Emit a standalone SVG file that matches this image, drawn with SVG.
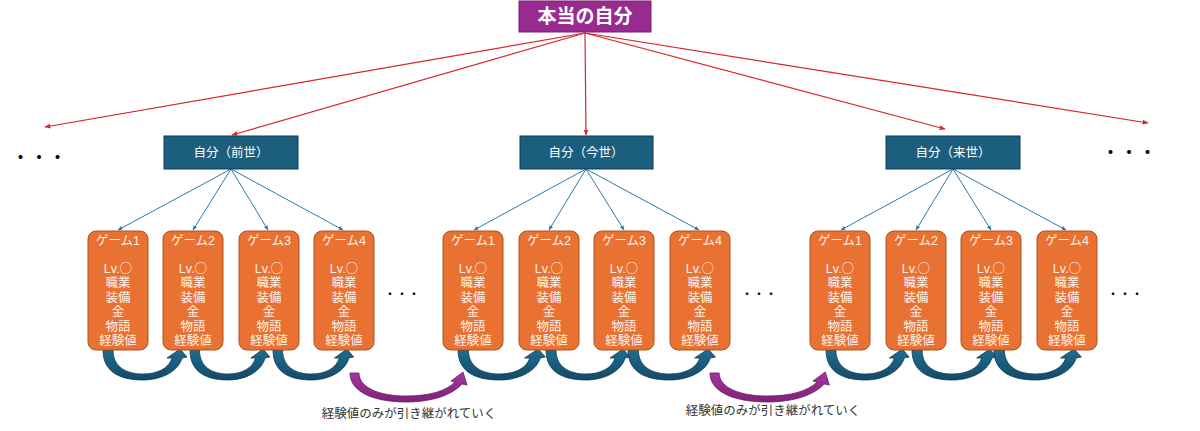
<svg xmlns="http://www.w3.org/2000/svg" xmlns:xlink="http://www.w3.org/1999/xlink" width="1200" height="431" viewBox="0 0 1200 431">
<style>
text{font-family:"Noto Sans CJK JP","Noto Sans",sans-serif;}
.game{fill:#E97132;stroke:#A9521F;stroke-width:1;}
.gt{fill:#FFF3EA;font-size:12.5px;text-anchor:middle;font-family:"Liberation Sans","Noto Sans CJK JP",sans-serif;}
.c{font-family:"Noto Sans CJK JP",sans-serif;}
.life{fill:#1B5E7E;stroke:#0F3D55;stroke-width:1;}
.lt{fill:#FFFFFF;font-size:12.5px;text-anchor:middle;}
.red{stroke:#D6262B;stroke-width:1.2;fill:none;marker-end:url(#ra);}
.blue{stroke:#2A7AA6;stroke-width:1;fill:none;marker-end:url(#ba);}
.dots{fill:#000;text-anchor:middle;}
.lbl{fill:#333;font-size:12.5px;text-anchor:middle;}
</style>
<defs>
<marker id="ra" viewBox="0 0 10 10" refX="9" refY="5" markerWidth="5" markerHeight="5" orient="auto"><path d="M0,1 L10,5 L0,9 Z" fill="#D6262B"/></marker>
<marker id="ba" viewBox="0 0 10 10" refX="9" refY="5" markerWidth="5" markerHeight="5" orient="auto"><path d="M0,1 L10,5 L0,9 Z" fill="#2A7AA6"/></marker>
<linearGradient id="bg" x1="0" y1="0" x2="0" y2="1"><stop offset="0" stop-color="#1F6E92"/><stop offset="1" stop-color="#134A66"/></linearGradient>
<linearGradient id="pg" x1="0" y1="0" x2="0" y2="1"><stop offset="0" stop-color="#A6359F"/><stop offset="1" stop-color="#7E2279"/></linearGradient>
<path id="barrow" d="M0,0 C0,24 20,30 40,30 C60,30 76,20 79,8 L84,7 L77,-1 L64,8 L69,8 C66,18 55,24 40,24 C22,24 10,16 10,0 Z" fill="url(#bg)" stroke="#0E3A50" stroke-width="0.8"/>
<path id="parrow" d="M0,0 C0,20 26,29 56,29 C82,29 102,22 112,11 L117,12 L113,-1 L101,8 L105,9 C96,18 80,23 56,23 C30,23 9,15 9,0 Z" fill="url(#pg)" stroke="#6A1A66" stroke-width="0.8"/>
</defs>
<rect width="1200" height="431" fill="#FFFFFF"/>

<g id="connectors">
  <line class="red" x1="585" y1="33" x2="45" y2="127"/>
  <line class="red" x1="585" y1="33" x2="232" y2="135"/>
  <line class="red" x1="585" y1="33" x2="586" y2="135"/>
  <line class="red" x1="585" y1="33" x2="945" y2="129"/>
  <line class="red" x1="585" y1="33" x2="1148" y2="123"/>

  <line class="blue" x1="231" y1="169" x2="118" y2="230"/>
  <line class="blue" x1="231" y1="169" x2="193" y2="230"/>
  <line class="blue" x1="231" y1="169" x2="268" y2="230"/>
  <line class="blue" x1="231" y1="169" x2="343" y2="230"/>

  <line class="blue" x1="586" y1="169" x2="474" y2="230"/>
  <line class="blue" x1="586" y1="169" x2="549" y2="230"/>
  <line class="blue" x1="586" y1="169" x2="624" y2="230"/>
  <line class="blue" x1="586" y1="169" x2="699" y2="230"/>

  <line class="blue" x1="953" y1="169" x2="841" y2="230"/>
  <line class="blue" x1="953" y1="169" x2="916" y2="230"/>
  <line class="blue" x1="953" y1="169" x2="991" y2="230"/>
  <line class="blue" x1="953" y1="169" x2="1066" y2="230"/>

  <use xlink:href="#barrow" transform="translate(103,350) scale(1,1)"/>
  <use xlink:href="#barrow" transform="translate(190,350) scale(0.95,1)"/>
  <use xlink:href="#barrow" transform="translate(273,350) scale(0.96,1)"/>
  <use xlink:href="#barrow" transform="translate(458,350) scale(1.04,1)"/>
  <use xlink:href="#barrow" transform="translate(546,350) scale(1,1)"/>
  <use xlink:href="#barrow" transform="translate(628,350) scale(1.04,1)"/>
  <use xlink:href="#barrow" transform="translate(826,350) scale(0.99,1)"/>
  <use xlink:href="#barrow" transform="translate(912,350) scale(1.01,1)"/>
  <use xlink:href="#barrow" transform="translate(994,350) scale(1.04,1)"/>

  <use xlink:href="#parrow" transform="translate(350,373)"/>
  <use xlink:href="#parrow" transform="translate(710,373) scale(1.02,1)"/>
</g>

<g id="true-self">
  <rect x="519" y="1" width="132" height="31" fill="#992A90" stroke="#7A1F73" stroke-width="1"/>
  <text x="585" y="23" fill="#FFFFFF" font-size="19" font-weight="bold" text-anchor="middle">本当の自分</text>
</g>

<g id="life-past"><rect class="life" x="164" y="136" width="134" height="33"/><text class="lt" x="231" y="157">自分（前世）</text></g>
<g id="life-now"><rect class="life" x="520" y="136" width="133" height="33"/><text class="lt" x="586" y="157">自分（今世）</text></g>
<g id="life-next"><rect class="life" x="886" y="136" width="134" height="33"/><text class="lt" x="953" y="157">自分（来世）</text></g>

<g id="p-g1" transform="translate(88,231)"><rect class="game" width="60" height="119" rx="8"/><text class="gt"><tspan x="30" y="13.5">ゲーム1</tspan><tspan x="30" y="41.5">Lv.<tspan class="c">○</tspan></tspan><tspan x="30" y="56">職業</tspan><tspan x="30" y="70.5">装備</tspan><tspan x="30" y="85">金</tspan><tspan x="30" y="99.5">物語</tspan><tspan x="30" y="114">経験値</tspan></text></g>
<g id="p-g2" transform="translate(163,231)"><rect class="game" width="60" height="119" rx="8"/><text class="gt"><tspan x="30" y="13.5">ゲーム2</tspan><tspan x="30" y="41.5">Lv.<tspan class="c">○</tspan></tspan><tspan x="30" y="56">職業</tspan><tspan x="30" y="70.5">装備</tspan><tspan x="30" y="85">金</tspan><tspan x="30" y="99.5">物語</tspan><tspan x="30" y="114">経験値</tspan></text></g>
<g id="p-g3" transform="translate(239,231)"><rect class="game" width="60" height="119" rx="8"/><text class="gt"><tspan x="30" y="13.5">ゲーム3</tspan><tspan x="30" y="41.5">Lv.<tspan class="c">○</tspan></tspan><tspan x="30" y="56">職業</tspan><tspan x="30" y="70.5">装備</tspan><tspan x="30" y="85">金</tspan><tspan x="30" y="99.5">物語</tspan><tspan x="30" y="114">経験値</tspan></text></g>
<g id="p-g4" transform="translate(314,231)"><rect class="game" width="60" height="119" rx="8"/><text class="gt"><tspan x="30" y="13.5">ゲーム4</tspan><tspan x="30" y="41.5">Lv.<tspan class="c">○</tspan></tspan><tspan x="30" y="56">職業</tspan><tspan x="30" y="70.5">装備</tspan><tspan x="30" y="85">金</tspan><tspan x="30" y="99.5">物語</tspan><tspan x="30" y="114">経験値</tspan></text></g>

<g id="n-g1" transform="translate(443,231)"><rect class="game" width="60" height="119" rx="8"/><text class="gt"><tspan x="30" y="13.5">ゲーム1</tspan><tspan x="30" y="41.5">Lv.<tspan class="c">○</tspan></tspan><tspan x="30" y="56">職業</tspan><tspan x="30" y="70.5">装備</tspan><tspan x="30" y="85">金</tspan><tspan x="30" y="99.5">物語</tspan><tspan x="30" y="114">経験値</tspan></text></g>
<g id="n-g2" transform="translate(519,231)"><rect class="game" width="60" height="119" rx="8"/><text class="gt"><tspan x="30" y="13.5">ゲーム2</tspan><tspan x="30" y="41.5">Lv.<tspan class="c">○</tspan></tspan><tspan x="30" y="56">職業</tspan><tspan x="30" y="70.5">装備</tspan><tspan x="30" y="85">金</tspan><tspan x="30" y="99.5">物語</tspan><tspan x="30" y="114">経験値</tspan></text></g>
<g id="n-g3" transform="translate(594,231)"><rect class="game" width="60" height="119" rx="8"/><text class="gt"><tspan x="30" y="13.5">ゲーム3</tspan><tspan x="30" y="41.5">Lv.<tspan class="c">○</tspan></tspan><tspan x="30" y="56">職業</tspan><tspan x="30" y="70.5">装備</tspan><tspan x="30" y="85">金</tspan><tspan x="30" y="99.5">物語</tspan><tspan x="30" y="114">経験値</tspan></text></g>
<g id="n-g4" transform="translate(670,231)"><rect class="game" width="60" height="119" rx="8"/><text class="gt"><tspan x="30" y="13.5">ゲーム4</tspan><tspan x="30" y="41.5">Lv.<tspan class="c">○</tspan></tspan><tspan x="30" y="56">職業</tspan><tspan x="30" y="70.5">装備</tspan><tspan x="30" y="85">金</tspan><tspan x="30" y="99.5">物語</tspan><tspan x="30" y="114">経験値</tspan></text></g>

<g id="x-g1" transform="translate(810,231)"><rect class="game" width="60" height="119" rx="8"/><text class="gt"><tspan x="30" y="13.5">ゲーム1</tspan><tspan x="30" y="41.5">Lv.<tspan class="c">○</tspan></tspan><tspan x="30" y="56">職業</tspan><tspan x="30" y="70.5">装備</tspan><tspan x="30" y="85">金</tspan><tspan x="30" y="99.5">物語</tspan><tspan x="30" y="114">経験値</tspan></text></g>
<g id="x-g2" transform="translate(886,231)"><rect class="game" width="60" height="119" rx="8"/><text class="gt"><tspan x="30" y="13.5">ゲーム2</tspan><tspan x="30" y="41.5">Lv.<tspan class="c">○</tspan></tspan><tspan x="30" y="56">職業</tspan><tspan x="30" y="70.5">装備</tspan><tspan x="30" y="85">金</tspan><tspan x="30" y="99.5">物語</tspan><tspan x="30" y="114">経験値</tspan></text></g>
<g id="x-g3" transform="translate(961,231)"><rect class="game" width="60" height="119" rx="8"/><text class="gt"><tspan x="30" y="13.5">ゲーム3</tspan><tspan x="30" y="41.5">Lv.<tspan class="c">○</tspan></tspan><tspan x="30" y="56">職業</tspan><tspan x="30" y="70.5">装備</tspan><tspan x="30" y="85">金</tspan><tspan x="30" y="99.5">物語</tspan><tspan x="30" y="114">経験値</tspan></text></g>
<g id="x-g4" transform="translate(1037,231)"><rect class="game" width="60" height="119" rx="8"/><text class="gt"><tspan x="30" y="13.5">ゲーム4</tspan><tspan x="30" y="41.5">Lv.<tspan class="c">○</tspan></tspan><tspan x="30" y="56">職業</tspan><tspan x="30" y="70.5">装備</tspan><tspan x="30" y="85">金</tspan><tspan x="30" y="99.5">物語</tspan><tspan x="30" y="114">経験値</tspan></text></g>

<g id="ellipses">
  <text class="dots" x="39" y="164" font-size="18.5">・・・</text>
  <text class="dots" x="1129" y="159" font-size="18.5">・・・</text>
  <text class="dots" x="402" y="298.5" font-size="12">・・・</text>
  <text class="dots" x="759" y="298.5" font-size="12">・・・</text>
  <text class="dots" x="1125" y="299" font-size="12">・・・</text>
</g>

<g id="labels">
  <text class="lbl" x="409" y="418">経験値のみが引き継がれていく</text>
  <text class="lbl" x="773" y="415">経験値のみが引き継がれていく</text>
</g>
</svg>
